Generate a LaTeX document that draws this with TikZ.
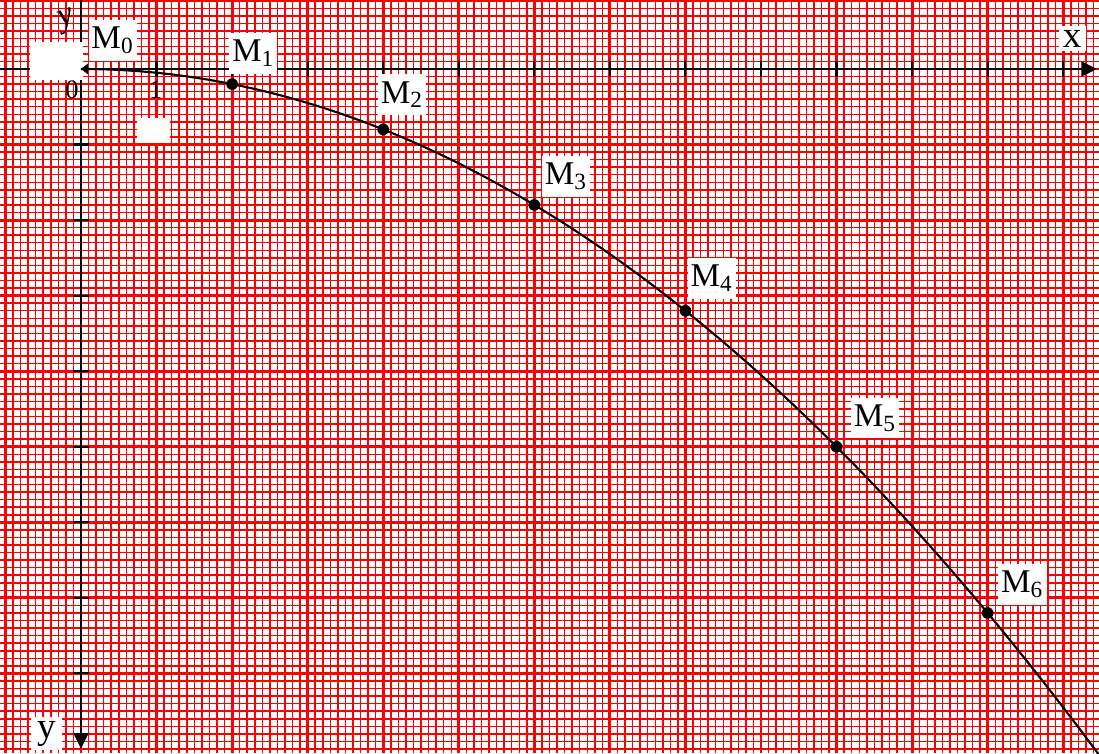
\documentclass[tikz,border=0pt]{standalone}
\usepackage{fontspec}
\setmainfont{Liberation Serif}
\usetikzlibrary{arrows.meta}
\begin{document}
\begin{tikzpicture}[x=1cm,y=1cm,
  minor/.style={red,line width=0.55pt},
  major/.style={red,line width=1.1pt},
  axis/.style={line width=1.1pt,-{Triangle[length=6pt,width=5.5pt]}},
  tick/.style={line width=0.8pt},
  pt/.style={circle,fill=black,inner sep=0pt,minimum size=4.4pt},
  lab/.style={fill=white,inner sep=0pt,minimum width=0.64cm,minimum height=0.54cm,font=\fontsize{12.5}{12.5}\selectfont},
  big/.style={fill=white,inner sep=1.5pt,font=\fontsize{14}{14}\selectfont},
  mask/.style={fill=white}]
\useasboundingbox (-1.072,-9.054) rectangle (13.474,0.913);
% 坐标纸
\draw[minor,step=0.1] (-1.072,-9.054) grid (13.474,0.913);
\draw[major,step=1] (-1.072,-9.054) grid (13.474,0.913);
% 坐标轴
\coordinate (O) at (0,0);
\coordinate (xs) at (-1.072,0);
\coordinate (xe) at (13.45,0);
\coordinate (ys) at (0,0.913);
\coordinate (ye) at (0,-9.0);
\draw[axis] (xs) -- (xe);
\draw[axis] (ys) -- (ye);
\foreach \i in {1,...,13} \draw[tick] (\i,-0.11) -- (\i,0.11);
\foreach \j in {1,...,8} \draw[tick] (-0.1,-\j) -- (0.1,-\j);
\fill[mask] (-0.67,0.36) rectangle (0.02,-0.146);
\fill[mask] (0.741,-0.649) rectangle (1.178,-0.98);
\fill (O) -- (0.09,0.07) -- (0.09,-0.07) -- cycle;
\node[font=\fontsize{10}{10}\selectfont] (n0) at (-0.12,-0.28) {0};
\node[font=\fontsize{10}{10}\selectfont] (n1) at (0.99,-0.28) {1};
\node[big] (lx) at (13.12,0.4) {x};
\node[big,minimum size=0.42cm] (ly) at (-0.457,-8.8) {y};
\node[font=\fontsize{13}{13}\selectfont,rotate=20] (ytop) at (-0.18,0.64) {\textit{y}};
% 轨迹
\draw[line width=0.8pt] plot[domain=0:13.6,samples=80,smooth] (\x,{-0.05*\x*\x});
\foreach \k in {1,...,6} \node[pt] (M\k) at ({2*\k},{-0.2*\k*\k}) {};
\node[lab] (l0) at (0.42,0.38) {M\textsubscript{0}};
\node[lab] (l1) at (2.28,0.21) {M\textsubscript{1}};
\node[lab] (l2) at (4.25,-0.34) {M\textsubscript{2}};
\node[lab] (l3) at (6.42,-1.42) {M\textsubscript{3}};
\node[lab] (l4) at (8.35,-2.77) {M\textsubscript{4}};
\node[lab] (l5) at (10.51,-4.62) {M\textsubscript{5}};
\node[lab] (l6) at (12.46,-6.82) {M\textsubscript{6}};
\end{tikzpicture}
\end{document}
